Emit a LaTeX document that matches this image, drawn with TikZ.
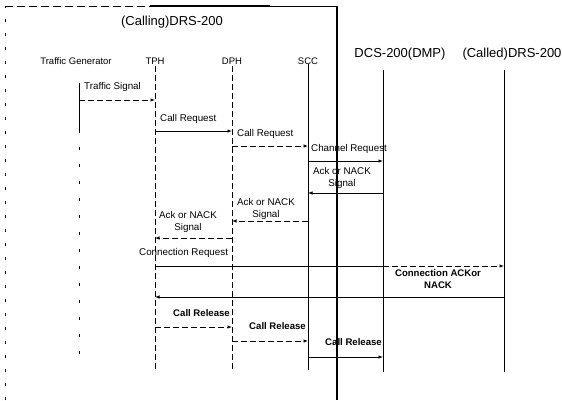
\documentclass[tikz,border=0pt]{standalone}
\usepackage{fontspec}
\setmainfont{Liberation Sans}
\usetikzlibrary{arrows.meta}
\begin{document}
\begin{tikzpicture}[x=1pt,y=-1pt,
  hdr/.style={font=\fontsize{13}{15}\selectfont, inner sep=0pt},
  obj/.style={font=\fontsize{9.5}{11}\selectfont, inner sep=0pt},
  lbl/.style={font=\fontsize{9.8}{11.5}\selectfont, inner sep=0pt, align=center},
  blbl/.style={font=\bfseries\fontsize{9.6}{11.5}\selectfont, inner sep=0pt, align=center},
  msg/.style={-{Latex[length=4.5pt,width=3.5pt]}, line width=0.8pt},
  dsh/.style={dash pattern=on 6pt off 3pt},
  life/.style={line width=0.6pt},
  frm/.style={line width=1.1pt}]
\useasboundingbox (0,0) rectangle (562,400);

% lifeline positions
\coordinate (tg) at (79,0);
\coordinate (tph) at (155,0);
\coordinate (dph) at (232,0);
\coordinate (scc) at (308,0);
\coordinate (frame) at (337,0);
\coordinate (dcs) at (383,0);
\coordinate (drs) at (504,0);

% frame of the calling DRS-200
\draw[line width=0.5pt, dash pattern=on 3pt off 11pt] (5,400) -- (5,6);
\draw[line width=0.6pt, dash pattern=on 8pt off 4pt] (5,6) -- (150,6);
\draw[frm] (150,6) -- (270,6);
\draw[line width=0.7pt] (270,6) -- (frame |- 0,6);
\draw[frm] (frame |- 0,6) -- (frame |- 0,400);

% headers
\node[hdr] (calling) at (172,22) {(Calling)DRS-200};
\node[obj] (tgh) at (76,61) {Traffic Generator};
\node[obj] (tphh) at (155,61) {TPH};
\node[obj] (dphh) at (232,61) {DPH};
\node[obj] (scch) at (308,61) {SCC};
\node[hdr] (dcsh) at (400,54) {DCS-200(DMP)};
\node[hdr] (drsh) at (512,54) {(Called)DRS-200};

% lifelines
\draw[life] (tg |- 0,83) -- (tg |- 0,130);
\draw[life, dash pattern=on 3pt off 14pt] (tg |- 0,130) -- (tg |- 0,368);
\draw[life, dsh] (tph |- 0,66) -- (tph |- 0,372);
\draw[life, dsh] (dph |- 0,66) -- (dph |- 0,370);
\draw[life] (scc |- 0,64) -- (scc |- 0,370);
\draw[life] (dcs |- 0,70) -- (dcs |- 0,372);
\draw[life] (drs |- 0,70) -- (drs |- 0,372);

% messages
\node[lbl, anchor=west] (l1) at (84,87) {Traffic Signal};
\draw[msg, dsh] (tg |- 0,100) -- (tph |- 0,100);

\node[lbl, anchor=west] (l2) at (160,119) {Call Request};
\draw[msg] (tph |- 0,131) -- (dph |- 0,131);

\node[lbl, anchor=west] (l3) at (237,134) {Call Request};
\draw[msg, dsh] (dph |- 0,146) -- (scc |- 0,146);

\node[lbl, anchor=west] (l4) at (311,149) {Channel Request};
\draw[msg] (scc |- 0,161) -- (dcs |- 0,161);

\node[lbl] (l5) at (342,178) {Ack or NACK\\Signal};
\draw[msg] (dcs |- 0,193) -- (scc |- 0,193);

\node[lbl] (l6) at (266,209) {Ack or NACK\\Signal};
\draw[msg, dsh] (scc |- 0,221) -- (dph |- 0,221);

\node[lbl] (l7) at (188,222) {Ack or NACK\\Signal};
\draw[msg, dsh] (dph |- 0,238) -- (tph |- 0,238);

\node[lbl, anchor=west] (l8) at (139,253) {Connection Request};
\draw[line width=0.8pt] (tph |- 0,266) -- (dcs |- 0,266);
\draw[msg, dsh] (dcs |- 0,266) -- (drs |- 0,266);

\node[blbl] (l9) at (438,279) {Connection ACKor\\NACK};
\draw[msg] (drs |- 0,297) -- (tph |- 0,297);

\node[blbl, anchor=east] (l10) at (230,313) {Call Release};
\draw[msg, dsh] (tph |- 0,327) -- (dph |- 0,327);

\node[blbl, anchor=east] (l11) at (306,326) {Call Release};
\draw[msg, dsh] (dph |- 0,341) -- (scc |- 0,341);

\node[blbl, anchor=east] (l12) at (382,342) {Call Release};
\draw[msg] (scc |- 0,357) -- (dcs |- 0,357);
\end{tikzpicture}
\end{document}
